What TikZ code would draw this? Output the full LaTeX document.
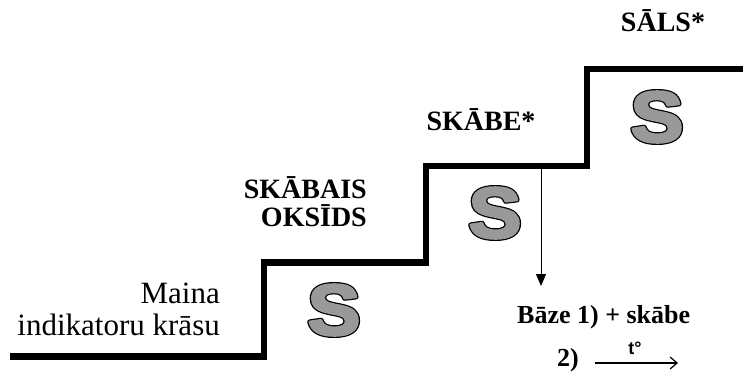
\documentclass[tikz,border=0pt]{standalone}
\usepackage{fontspec}
\setmainfont{Liberation Serif}
\newfontfamily\heavysans{Liberation Sans}
\usetikzlibrary{arrows.meta}
\definecolor{sgray}{gray}{0.6}
% heavy grey letter S with a thin black outline: a wide black stroke below,
% a narrower grey stroke on top (text render mode 2 = fill and stroke)
\newcommand\outlinedS{{\color{sgray}%
  \special{pdf:literal 0 G 5 w 1 j 2 Tr}\rlap{S}%
  \special{pdf:literal 0.6 G 2.6 w}S%
  \special{pdf:literal 0 Tr 0 j}}}
\tikzset{
  stair/.style={line width=6.5pt, line join=miter},
  glyph/.style={inner sep=0pt, xscale=1.1, transform shape,
    font=\heavysans\bfseries\fontsize{72}{72}\selectfont},
  plain/.style={inner sep=0pt, font=\fontsize{31}{33}\selectfont},
  heavy/.style={inner sep=0pt, font=\bfseries\fontsize{28}{30}\selectfont},
  heavysmall/.style={inner sep=0pt, font=\bfseries\fontsize{26}{28}\selectfont},
  thinarrow/.style={line width=1pt, -{Triangle[width=10pt,length=12pt]}},
  heatarrow/.style={line width=1.2pt, -{Straight Barb[length=7pt,width=12pt]}}
}
\begin{document}
\begin{tikzpicture}[x=1pt,y=-1pt]
\useasboundingbox (0,0) rectangle (743,372);
% staircase
\coordinate (s0) at (10,356.5);
\coordinate (s1) at (264,356.5);
\coordinate (s2) at (264,262.5);
\coordinate (s3) at (426,262.5);
\coordinate (s4) at (426,166);
\coordinate (s5) at (587,166);
\coordinate (s6) at (587,69);
\coordinate (s7) at (743,69);
\draw[stair] (s0) -- (s1) -- (s2) -- (s3) -- (s4) -- (s5) -- (s6) -- (s7);
% outlined letters on the steps
\node[glyph] (g1) at (334,310) {\outlinedS};
\node[glyph] (g2) at (495,213) {\outlinedS};
\node[glyph] (g3) at (657,117) {\outlinedS};
% labels
\node[plain, anchor=base east] (m1) at (220,303) {Maina};
\node[plain, anchor=base east] (m2) at (220,335) {indikatoru krāsu};
\node[heavy, anchor=base east] (o1) at (367,198) {SKĀBAIS};
\node[heavy, anchor=base east] (o2) at (367,226) {OKSĪDS};
\node[heavy, anchor=base] (a1) at (481,130) {SKĀBE*};
\node[heavy, anchor=base] (l1) at (663,31) {SĀLS*};
\node[heavysmall, anchor=base west] (b1) at (517,323) {Bāze 1) + skābe};
\node[heavysmall, anchor=base west] (b2) at (557,366) {2)};
% acid to base arrow
\coordinate (d0) at (541,166);
\coordinate (d1) at (541,286);
\draw[thinarrow] (d0) -- (d1);
% heating arrow
\coordinate (h0) at (595,363);
\coordinate (h1) at (678,363);
\draw[heatarrow] (h0) -- (h1);
\node[inner sep=0pt, anchor=base, font=\heavysans\bfseries\fontsize{18}{18}\selectfont] (t1) at (635,354) {t°};
\end{tikzpicture}
\end{document}
